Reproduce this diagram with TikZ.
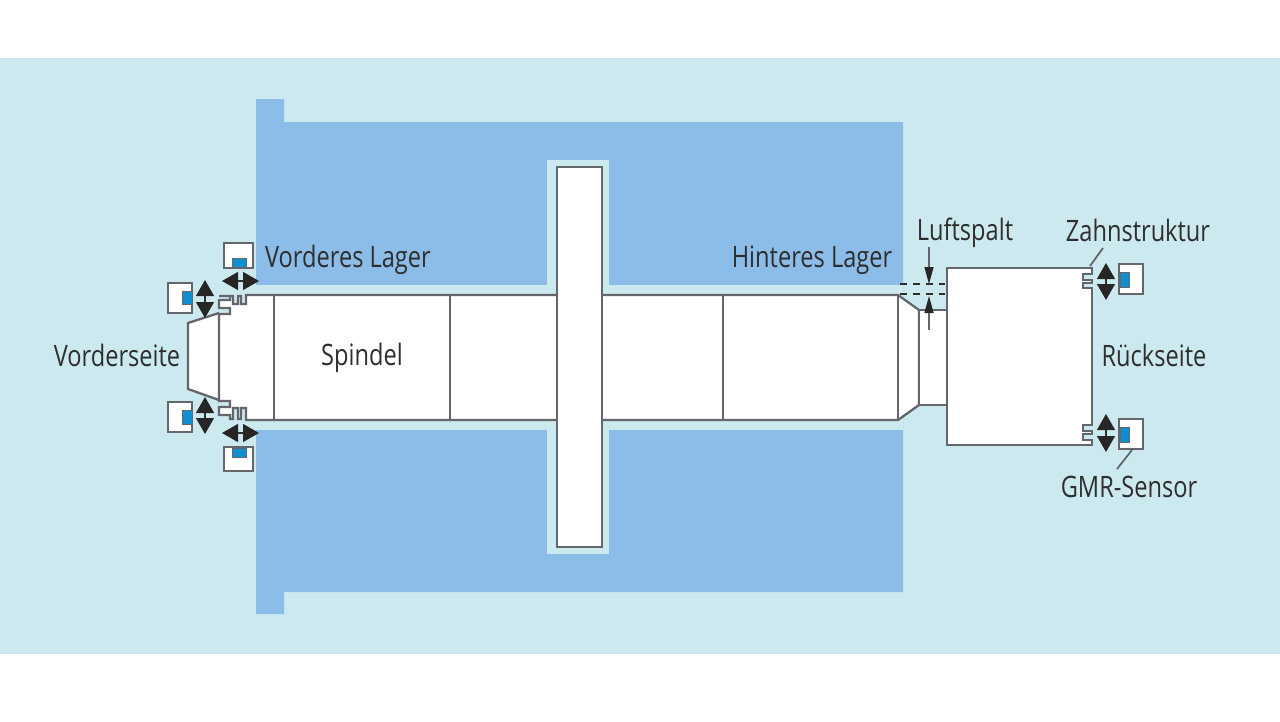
\documentclass[tikz,border=0pt]{standalone}
\usepackage{fontspec}
\setmainfont[FakeStretch=0.8]{Open Sans}
\usetikzlibrary{arrows.meta}
\definecolor{bgblue}{HTML}{CDE9F0}
\definecolor{housing}{HTML}{8CBDE8}
\definecolor{edge}{HTML}{63676B}
\definecolor{chip}{HTML}{0F8FD0}
\definecolor{ink}{HTML}{2E2E2E}
\tikzset{
  part/.style={draw=edge,fill=white,line width=2.3pt,line join=miter},
  sep/.style={draw=edge,line width=2.3pt},
  sensorbox/.style={draw=edge,fill=white,line width=2.3pt,inner sep=0pt,minimum width=#1},
  chipbox/.style={fill=chip,draw=edge,line width=0.6pt,inner sep=0pt},
  lbl/.style={text=ink,font=\fontsize{29.5}{31}\selectfont,inner sep=0pt,anchor=center},
  motion/.style={draw=ink,line width=1.2pt,{Triangle[length=16pt,width=18pt,color=black!85]}-{Triangle[length=16pt,width=18pt,color=black!85]}},
  gaparrow/.style={draw=edge,line width=1.4pt,-{Triangle[length=17pt,width=9pt,color=black!85]}},
  gapline/.style={draw=ink,line width=1.5pt,dash pattern=on 7pt off 6pt},
  leader/.style={draw=edge,line width=1.8pt}
}
\begin{document}
\begin{tikzpicture}[x=1pt,y=-1pt]
\useasboundingbox (0,0) rectangle (1280,721);
\fill[white] (0,0) rectangle (1280,721);
\fill[bgblue] (0,58) rectangle (1280,654);
% housing
\fill[housing] (256,99) -- (284,99) -- (284,122) -- (903,122) -- (903,592) -- (284,592) -- (284,614) -- (256,614) -- cycle;
\fill[bgblue] (256,285) rectangle (903,430);
\fill[bgblue] (547,160) rectangle (609,554);
% nose
\draw[part] (219,313) -- (188,323) -- (188,389) -- (219,400);
% spindle with labyrinth
\draw[part] (219,296) -- (230,296) -- (230,300) -- (219,300) -- (219,308) -- (230,308) -- (230,314) -- (219,314)
  -- (219,401) -- (230,401) -- (230,407) -- (219,407) -- (219,415) -- (230,415) -- (230,419)
  -- (233,419) -- (233,408) -- (238,408) -- (238,419) -- (241,419) -- (241,408) -- (246,408) -- (246,420)
  -- (898,420) -- (919,405) -- (919,310) -- (898,295) -- (246,295) -- (246,304) -- (241,304) -- (241,296)
  -- (238,296) -- (238,304) -- (233,304) -- (233,296) -- cycle;
% neck
\draw[part] (919,310) rectangle (947,405);
% rear block
\draw[part] (947,268) -- (1092,268) -- (1092,274) -- (1083,274) -- (1083,280) -- (1092,280) -- (1092,283) -- (1083,283) -- (1083,288) -- (1092,288)
  -- (1092,425) -- (1083,425) -- (1083,431) -- (1092,431) -- (1092,434) -- (1083,434) -- (1083,440) -- (1092,440) -- (1092,445) -- (947,445) -- cycle;
% spindle dividers
\draw[sep] (274,295) -- (274,420);
\draw[sep] (450,295) -- (450,420);
\draw[sep] (723,295) -- (723,420);
\draw[sep] (898,295) -- (898,420);
% disc
\node[part,minimum width=45pt,minimum height=380pt,inner sep=0pt] (disc) at (579.5,357) {};
% sensors
\node[sensorbox=29pt,minimum height=25pt] (s1) at (238.5,255.5) {};
\node[chipbox,minimum width=14pt,minimum height=9pt] (c1) at (239,262.5) {};
\node[sensorbox=29pt,minimum height=24pt] (s2) at (238.5,459) {};
\node[chipbox,minimum width=14pt,minimum height=9pt] (c2) at (239,452.5) {};
\node[sensorbox=24pt,minimum height=30pt] (s3) at (180,298) {};
\node[chipbox,minimum width=10pt,minimum height=13pt] (c3) at (187,297.5) {};
\node[sensorbox=24pt,minimum height=30pt] (s4) at (180,417) {};
\node[chipbox,minimum width=10pt,minimum height=14pt] (c4) at (187,417) {};
\node[sensorbox=24pt,minimum height=30pt] (s5) at (1131,279) {};
\node[chipbox,minimum width=9pt,minimum height=15pt] (c5) at (1124.5,279.5) {};
\node[sensorbox=24pt,minimum height=30pt] (s6) at (1131,434) {};
\node[chipbox,minimum width=9pt,minimum height=15pt] (c6) at (1124.5,434.5) {};
% motion arrows
\coordinate (a1l) at (222,281); \coordinate (a1r) at (259,281);
\coordinate (a2l) at (222,433); \coordinate (a2r) at (259,433);
\coordinate (a3t) at (205,280); \coordinate (a3b) at (205,318);
\coordinate (a4t) at (205,397); \coordinate (a4b) at (205,434);
\coordinate (a5t) at (1106,263); \coordinate (a5b) at (1106,300);
\coordinate (a6t) at (1106,414); \coordinate (a6b) at (1106,452);
\draw[motion] (a1l) -- (a1r);
\draw[motion] (a2l) -- (a2r);
\draw[motion] (a3t) -- (a3b);
\draw[motion] (a4t) -- (a4b);
\draw[motion] (a5t) -- (a5b);
\draw[motion] (a6t) -- (a6b);
% air gap
\coordinate (g1a) at (900,284); \coordinate (g1b) at (945,284);
\coordinate (g2a) at (900,294); \coordinate (g2b) at (945,294);
\coordinate (g3a) at (929,247); \coordinate (g3b) at (929,284);
\coordinate (g4a) at (929,330); \coordinate (g4b) at (929,296);
\draw[gapline] (g1a) -- (g1b);
\draw[gapline] (g2a) -- (g2b);
\draw[gaparrow] (g3a) -- (g3b);
\draw[gaparrow] (g4a) -- (g4b);
% labels
\node[lbl] (t1) at (117,355) {Vorderseite};
\node[lbl] (t2) at (348,260) {Vorderes Lager};
\node[lbl] (t3) at (362,358) {Spindel};
\node[lbl] (t4) at (812,260) {Hinteres Lager};
\node[lbl] (t5) at (965,233) {Luftspalt};
\node[lbl] (t6) at (1138,230) {Zahnstruktur};
\node[lbl] (t7) at (1154,355) {Rückseite};
\node[lbl] (t8) at (1129,487) {GMR-Sensor};
% leaders
\coordinate (z1) at (1103,248); \coordinate (z2) at (1090,266);
\coordinate (m1) at (1132,450); \coordinate (m2) at (1117,469);
\draw[leader] (z1) -- (z2);
\draw[leader] (m1) -- (m2);
\end{tikzpicture}
\end{document}
